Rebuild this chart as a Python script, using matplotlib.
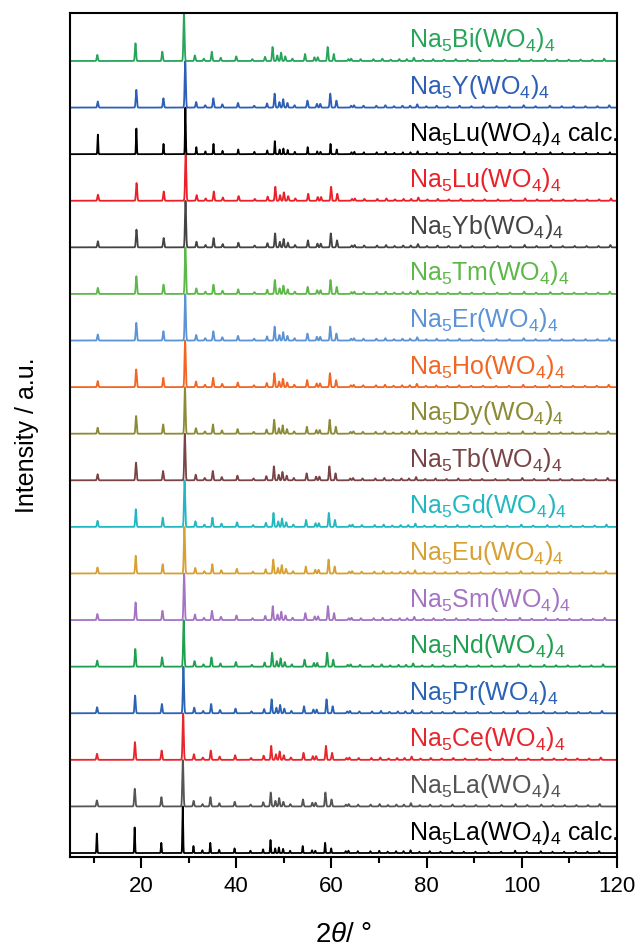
import numpy as np
import matplotlib
matplotlib.use("Agg")
import matplotlib.pyplot as plt
from matplotlib.ticker import MultipleLocator

plt.rcParams['font.family'] = ['Liberation Sans', 'DejaVu Sans']
plt.rcParams['mathtext.fontset'] = 'custom'
plt.rcParams['mathtext.rm'] = 'Liberation Sans'
plt.rcParams['mathtext.it'] = 'Liberation Sans:italic'
plt.rcParams['mathtext.default'] = 'regular'

# ---- data ----
names = ["Na$_5$La(WO$_4$)$_4$ calc.", "Na$_5$La(WO$_4$)$_4$", "Na$_5$Ce(WO$_4$)$_4$",
         "Na$_5$Pr(WO$_4$)$_4$", "Na$_5$Nd(WO$_4$)$_4$", "Na$_5$Sm(WO$_4$)$_4$",
         "Na$_5$Eu(WO$_4$)$_4$", "Na$_5$Gd(WO$_4$)$_4$", "Na$_5$Tb(WO$_4$)$_4$",
         "Na$_5$Dy(WO$_4$)$_4$", "Na$_5$Ho(WO$_4$)$_4$", "Na$_5$Er(WO$_4$)$_4$",
         "Na$_5$Tm(WO$_4$)$_4$", "Na$_5$Yb(WO$_4$)$_4$", "Na$_5$Lu(WO$_4$)$_4$",
         "Na$_5$Lu(WO$_4$)$_4$ calc.", "Na$_5$Y(WO$_4$)$_4$", "Na$_5$Bi(WO$_4$)$_4$"]
colors = ["#000000", "#555555", "#e8242c", "#2a62b4", "#1fa050", "#a474c4",
          "#d8a032", "#22b8c2", "#7a4446", "#8c8a34", "#f26522", "#5b93d6",
          "#5cb847", "#444444", "#ec2029", "#000000", "#2d5fb8", "#27a55a"]
is_calc = [True, False, False, False, False, False, False, False, False,
           False, False, False, False, False, False, True, False, False]
# lattice shift factor of peak positions relative to Na5Lu(WO4)4 calc.
shift = [0.981, 0.982, 0.984, 0.986, 0.988, 0.991, 0.993, 0.994, 0.996,
         0.997, 0.998, 0.999, 1.000, 1.001, 1.002, 1.000, 0.999, 0.990]

peak_pos = [10.9, 19.0, 24.7, 29.3, 31.6, 33.5, 35.2, 37.1, 40.4, 43.8,
            46.5, 48.1, 49.1, 49.9, 50.8, 52.3, 55.0, 57.0, 57.7, 59.8,
            61.1, 64.2, 64.8, 66.8, 69.5, 71.4, 73.2, 75.0, 76.6, 78.1,
            80.0, 82.2, 84.5, 87.0, 89.5, 92.0, 94.8, 97.5, 100.5, 103.0,
            106.0, 108.5, 111.0, 113.5, 116.0, 118.5]
calc_int = [0.42, 0.55, 0.22, 1.00, 0.15, 0.06, 0.22, 0.07, 0.10, 0.05,
            0.08, 0.28, 0.10, 0.12, 0.09, 0.05, 0.15, 0.06, 0.05, 0.22,
            0.10, 0.04, 0.05, 0.04, 0.04, 0.05, 0.03, 0.04, 0.04, 0.06,
            0.03, 0.04, 0.03, 0.04, 0.03, 0.03, 0.03, 0.03, 0.05, 0.03,
            0.04, 0.03, 0.03, 0.03, 0.03, 0.04]
exp_int = [0.13, 0.38, 0.20, 1.00, 0.12, 0.05, 0.20, 0.07, 0.10, 0.04,
           0.09, 0.30, 0.12, 0.18, 0.10, 0.05, 0.15, 0.08, 0.08, 0.30,
           0.15, 0.04, 0.05, 0.04, 0.04, 0.05, 0.03, 0.04, 0.04, 0.07,
           0.03, 0.04, 0.03, 0.04, 0.03, 0.03, 0.03, 0.03, 0.05, 0.03,
           0.04, 0.03, 0.03, 0.03, 0.03, 0.05]

xticks = [20, 40, 60, 80, 100, 120]

# ---- figure ----
fig = plt.figure(figsize=(6.4, 9.49), dpi=100)
ax = fig.add_axes([0.109, 0.0969, 0.855, 0.8894])

tt = np.arange(5.0, 120.0, 0.02)
for i, name in enumerate(names):
    ints = calc_int if is_calc[i] else exp_int
    w = 0.08 if is_calc[i] else 0.12
    y = np.zeros_like(tt)
    for p, h in zip(peak_pos, ints):
        c = p * shift[i]
        y += h * np.exp(-0.5 * ((tt - c) / w) ** 2)
    ax.plot(tt, y + i, color=colors[i], lw=1.3)
    ax.text(76.3, i + 0.29, name, color=colors[i], fontsize=18,
            ha='left', va='baseline')

ax.set_xlim(5, 120)
ax.set_ylim(-0.086, 18.03)
ax.set_yticks([])
ax.set_xticks(xticks)
ax.xaxis.set_minor_locator(MultipleLocator(10))
ax.tick_params(axis='x', which='major', direction='out', length=8, width=1.5,
               labelsize=16, pad=6)
ax.tick_params(axis='x', which='minor', direction='out', length=4, width=1.5)
for s in ax.spines.values():
    s.set_linewidth(1.5)
ax.set_xlabel('2$\\mathit{θ}$/ °', fontsize=20, labelpad=18)
ax.set_ylabel('Intensity / a.u.', fontsize=18, labelpad=22)

fig.savefig('out.png', dpi=100)
